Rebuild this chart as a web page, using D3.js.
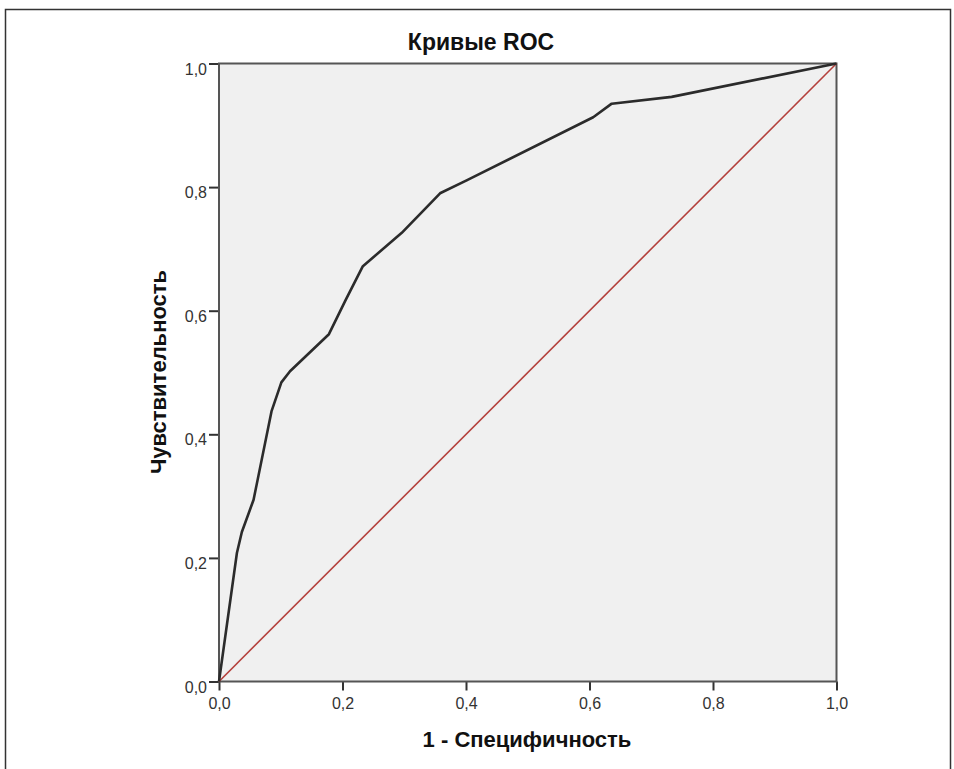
<!DOCTYPE html>
<html>
<head>
<meta charset="utf-8">
<script src="https://cdn.jsdelivr.net/npm/d3@7"></script>
<style>
  html, body { margin: 0; padding: 0; background: #fff; }
  svg { display: block; font-family: "Liberation Sans", Arial, sans-serif; }
</style>
</head>
<body>
<svg id="chart" width="954" height="769"></svg>
<script>
// ROC curve: false positive rate (1 - specificity) vs. true positive rate
const fpr = [0, 0.029, 0.037, 0.056, 0.085, 0.101, 0.115, 0.178, 0.205, 0.233, 0.296, 0.358, 0.401, 0.606, 0.636, 0.733, 1];
const tpr = [0, 0.208, 0.242, 0.294, 0.437, 0.484, 0.502, 0.562, 0.617, 0.672, 0.726, 0.790, 0.811, 0.913, 0.935, 0.946, 1];
// Reference (chance) line
const refX = [0, 1];
const refY = [0, 1];
const tickValues = [0, 0.2, 0.4, 0.6, 0.8, 1.0];
const titleText = "Кривые ROC";
const xTitle = "1 - Специфичность";
const yTitle = "Чувствительность";

const svg = d3.select("#chart");
const plot = { left: 219, top: 63.5, right: 836.5, bottom: 681.5 };

const x = d3.scaleLinear().domain([0, 1]).range([plot.left, plot.right]);
const y = d3.scaleLinear().domain([0, 1]).range([plot.bottom, plot.top]);
const fmt = d => d3.format(".1f")(d).replace(".", ",");

// outer frame
svg.append("rect")
  .attr("x", 5.5).attr("y", 9.5)
  .attr("width", 945).attr("height", 790)
  .attr("fill", "none").attr("stroke", "#333").attr("stroke-width", 1.5);

// plot background
svg.append("rect")
  .attr("x", plot.left).attr("y", plot.top)
  .attr("width", plot.right - plot.left).attr("height", plot.bottom - plot.top)
  .attr("fill", "#f0f0f0");

// axes
const xAxis = d3.axisBottom(x).tickValues(tickValues).tickFormat(fmt).tickSize(9).tickSizeOuter(0);
const yAxis = d3.axisLeft(y).tickValues(tickValues).tickFormat(fmt).tickSize(10).tickSizeOuter(0);

const gx = svg.append("g").attr("transform", `translate(0,${plot.bottom})`).call(xAxis);
const gy = svg.append("g").attr("transform", `translate(${plot.left},0)`).call(yAxis);

[gx, gy].forEach(g => {
  g.attr("font-size", null).attr("font-family", null);
  g.select(".domain").remove();
  g.selectAll(".tick line").attr("stroke", "#333").attr("stroke-width", 2);
  g.selectAll(".tick text")
    .attr("fill", "#333")
    .style("font-size", "16px")
    .style("font-family", "'Liberation Sans', Arial, sans-serif");
});
gx.selectAll(".tick text").attr("y", 16);
gy.selectAll(".tick text").attr("x", -12).attr("dy", "0.72em").attr("y", -1);

// plot border
svg.append("rect")
  .attr("x", plot.left).attr("y", plot.top)
  .attr("width", plot.right - plot.left).attr("height", plot.bottom - plot.top)
  .attr("fill", "none").attr("stroke", "#555").attr("stroke-width", 2);

// chance diagonal
svg.append("path")
  .datum(d3.zip(refX, refY))
  .attr("d", d3.line().x(d => x(d[0])).y(d => y(d[1])))
  .attr("fill", "none").attr("stroke", "#b4403c").attr("stroke-width", 1.6);

// ROC curve
svg.append("path")
  .datum(d3.zip(fpr, tpr))
  .attr("d", d3.line().x(d => x(d[0])).y(d => y(d[1])))
  .attr("fill", "none").attr("stroke", "#2b2b2b").attr("stroke-width", 2.6)
  .attr("stroke-linejoin", "round");

// titles
svg.append("text")
  .attr("x", 481).attr("y", 50)
  .attr("text-anchor", "middle")
  .style("font-size", "23px").style("font-weight", "bold")
  .attr("fill", "#111")
  .text(titleText);

svg.append("text")
  .attr("x", 527).attr("y", 747)
  .attr("text-anchor", "middle")
  .style("font-size", "22px").style("font-weight", "bold")
  .attr("fill", "#111")
  .text(xTitle);

svg.append("text")
  .attr("transform", "translate(166,372) rotate(-90)")
  .attr("text-anchor", "middle")
  .style("font-size", "22px").style("font-weight", "bold")
  .attr("fill", "#111")
  .text(yTitle);
</script>
</body>
</html>
